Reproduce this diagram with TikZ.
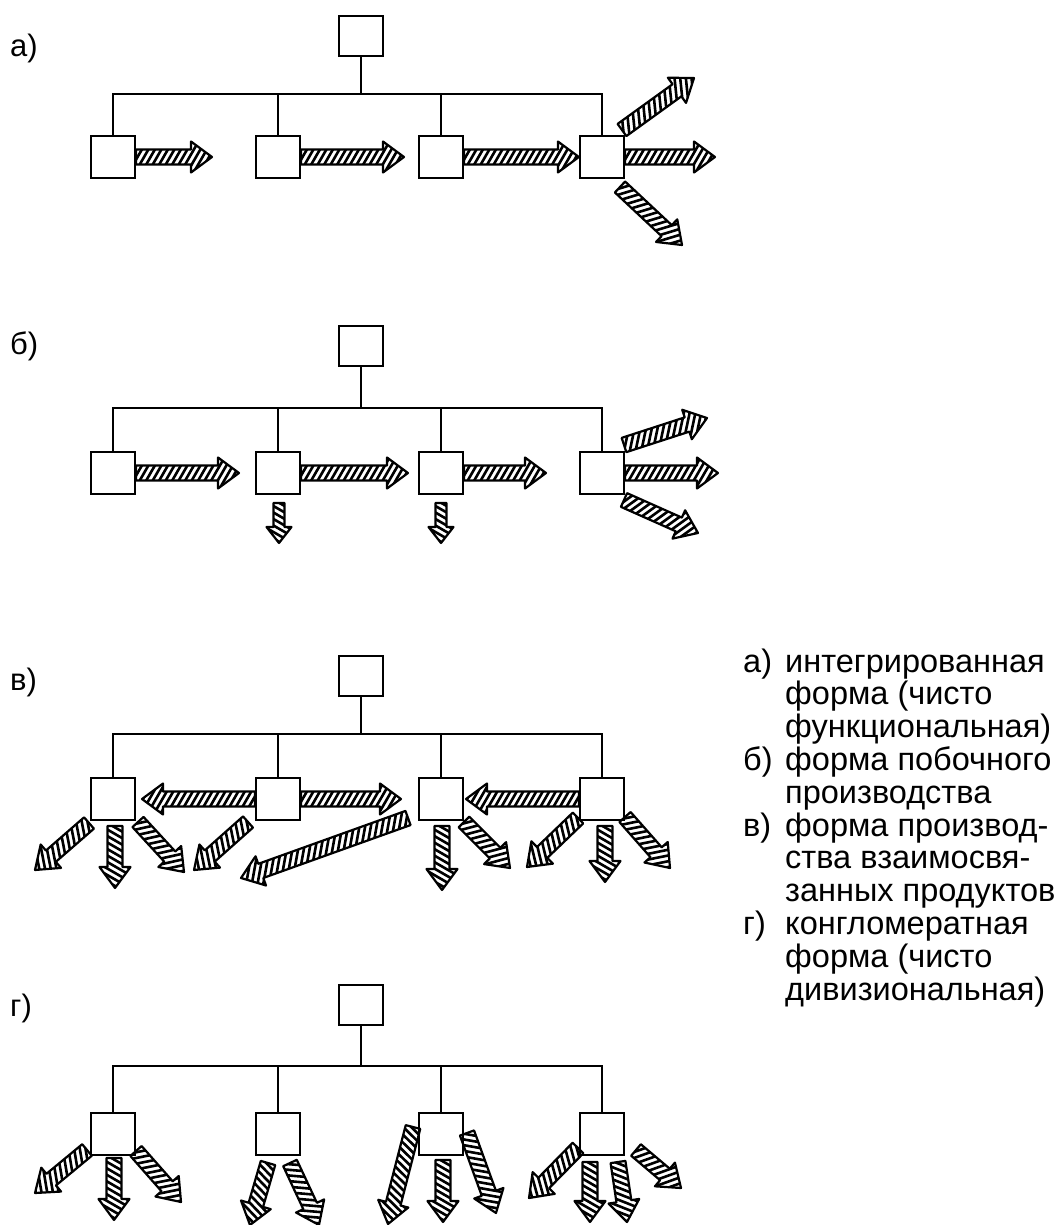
\documentclass[tikz,border=0pt]{standalone}
\usepackage{fontspec}
\setmainfont{Liberation Sans}
\usetikzlibrary{calc}
\makeatletter
\def\hw{7.5}\def\hW{15.5}\def\hh{21}
\def\hsmall{\def\hw{5.5}\def\hW{12.5}\def\hh{16}}
\newcommand\harr[3][]{%
 \begingroup #1%
 \path #2 coordinate (hA) #3 coordinate (hB);
 \pgfpointdiff{\pgfpointanchor{hA}{center}}{\pgfpointanchor{hB}{center}}%
 \edef\hdx{\pgf@sys@tonumber\pgf@x}\edef\hdy{\pgf@sys@tonumber\pgf@y}%
 \pgfmathsetmacro\hlen{veclen(\hdx,\hdy)}%
 \pgfmathsetmacro\hang{atan2(\hdy,\hdx)}%
 \pgfmathsetmacro\hb{\hlen-\hh}%
 \begin{scope}[shift={(hA)},rotate=\hang]
  \begin{scope}
   \clip (0pt,-\hw pt) -- (\hb pt,-\hw pt) -- (\hb pt,-\hW pt) -- (\hlen pt,0pt) -- (\hb pt,\hW pt) -- (\hb pt,\hw pt) -- (0pt,\hw pt) -- cycle;
   \foreach \k in {-40,-33.5,...,\hlen}{\draw[hatch] (\k pt,-\hW pt) -- ++(60:40pt);}
  \end{scope}
  \draw[arrowline] (0pt,-\hw pt) -- (\hb pt,-\hw pt) -- (\hb pt,-\hW pt) -- (\hlen pt,0pt) -- (\hb pt,\hW pt) -- (\hb pt,\hw pt) -- (0pt,\hw pt) -- cycle;
 \end{scope}
 \endgroup}
\makeatother
\tikzset{
 box/.style={draw, line width=2.2pt, minimum width=44pt, minimum height=42pt, inner sep=0pt},
 conn/.style={line width=2.2pt},
 hatch/.style={line width=2.6pt},
 arrowline/.style={line width=2.2pt, line join=round},
 lbl/.style={anchor=west, inner sep=0pt, font=\fontsize{31}{34}\selectfont},
 leg/.style={anchor=base west, inner sep=0pt, font=\fontsize{32.5}{36}\selectfont},
}
\newcommand\panel[6]{% prefix, label, label y, top y, bar y, box y
 \node[lbl] (#1l) at (10,#3) {#2};
 \node[box, minimum height=40pt] (#1t) at (361,#4) {};
 \node[box] (#11) at (113,#6) {};
 \node[box] (#12) at (278,#6) {};
 \node[box] (#13) at (441,#6) {};
 \node[box] (#14) at (602,#6) {};
 \coordinate (#1bar) at (361,#5);
 \draw[conn] (#1t.south) -- (#1bar);
 \draw[conn] (#11.north) |- (#1bar) -| (#14.north);
 \draw[conn] (#12.north) -- (#12.north |- #1bar);
 \draw[conn] (#13.north) -- (#13.north |- #1bar);
}
\begin{document}
\begin{tikzpicture}[x=1pt,y=-1pt]
\useasboundingbox (0,0) rectangle (1055,1225);
\panel{a}{а)}{48}{36}{94}{157}
\panel{b}{б)}{346}{346}{408}{473}
\panel{c}{в)}{682}{676}{734}{799}
\panel{d}{г)}{1008}{1005}{1066}{1134}
% a
\harr{(a1.east)}{(212,157)}
\harr{(a2.east)}{(404,157)}
\harr{(a3.east)}{(a4.west)}
\harr{(a4.east)}{(715,157)}
\harr{(622,130)}{(694,78)}
\harr{(620,187)}{(682,245)}
% b
\harr{(b1.east)}{(239,473)}
\harr{(b2.east)}{(408,473)}
\harr{(b3.east)}{(546,473)}
\harr{(b4.east)}{(718,473)}
\harr{(624,445)}{(707,418)}
\harr{(624,500)}{(698,533)}
\harr[\hsmall]{(279,503)}{(279,543)}
\harr[\hsmall]{(441,503)}{(441,543)}
% c
\harr{(c2.west)}{(142,799)}
\harr{(c2.east)}{(401,799)}
\harr{(c4.west)}{(466,799)}
\harr{(89,823)}{(35,870)}
\harr{(115,826)}{(115,888)}
\harr{(138,822)}{(184,872)}
\harr{(248,822)}{(194,870)}
\harr{(408,818)}{(241,878)}
\harr{(442,826)}{(442,890)}
\harr{(464,822)}{(510,868)}
\harr{(578,818)}{(527,867)}
\harr{(605,826)}{(605,882)}
\harr{(625,817)}{(670,868)}
% d
\harr{(87,1150)}{(35,1193)}
\harr{(114,1158)}{(114,1220)}
\harr{(136,1151)}{(181,1202)}
\harr{(268,1163)}{(250,1225)}
\harr{(290,1163)}{(319,1225)}
\harr{(413,1127)}{(388,1224)}
\harr{(443,1160)}{(443,1222)}
\harr{(467,1133)}{(496,1213)}
\harr{(578,1148)}{(529,1198)}
\harr{(590,1162)}{(590,1222)}
\harr{(618,1162)}{(627,1222)}
\harr{(636,1150)}{(681,1188)}
% legend
\node[leg] (la) at (743,672) {а)};
\node[leg] (l1) at (785,672) {интегрированная};
\node[leg] (l2) at (785,704.8) {форма (чисто};
\node[leg] (l3) at (785,737.6) {функциональная)};
\node[leg] (lb) at (743,770.4) {б)};
\node[leg] (l4) at (785,770.4) {форма побочного};
\node[leg] (l5) at (785,803.2) {производства};
\node[leg] (lc) at (743,836) {в)};
\node[leg] (l6) at (785,836) {форма производ-};
\node[leg] (l7) at (785,868.8) {ства взаимосвя-};
\node[leg] (l8) at (785,901.6) {занных продуктов};
\node[leg] (ld) at (743,934.4) {г)};
\node[leg] (l9) at (785,934.4) {конгломератная};
\node[leg] (l10) at (785,967.2) {форма (чисто};
\node[leg] (l11) at (785,1000) {дивизиональная)};
\end{tikzpicture}
\end{document}
